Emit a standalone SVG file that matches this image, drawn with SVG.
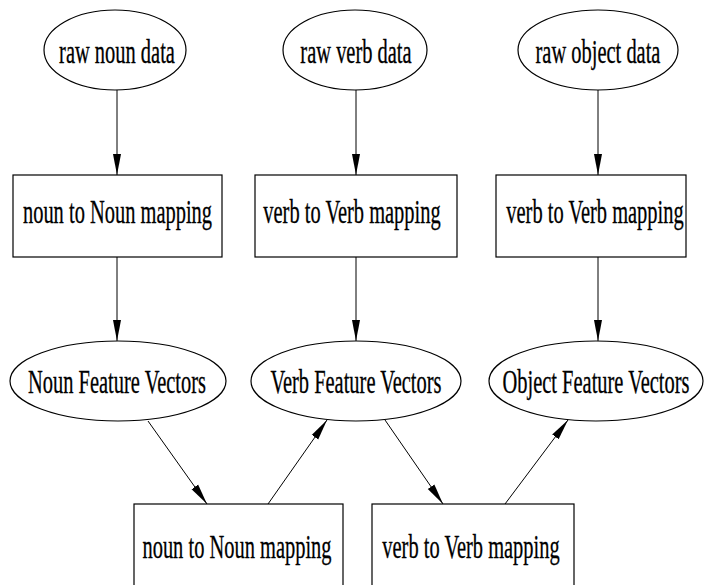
<svg xmlns="http://www.w3.org/2000/svg" width="704" height="585" viewBox="0 0 704 585">
  <style>
    .shape { fill: #ffffff; stroke: #000000; stroke-width: 1.2; }
    .lbl { font-family: "Liberation Serif", "Times New Roman", serif; font-size: 33px; fill: #000000; stroke: #000000; stroke-width: 0.3; text-anchor: middle; }
    .edge { fill: none; stroke: #000000; stroke-width: 1; marker-end: url(#arrow); }
  </style>
  <defs>
    <marker id="arrow" markerUnits="userSpaceOnUse" markerWidth="24" markerHeight="10" refX="21" refY="4.5" orient="auto">
      <path d="M0,0.5 L21,4.5 L0,8.5 Z" fill="#000000"/>
    </marker>
  </defs>
  <rect width="704" height="585" fill="#ffffff"/>

  <!-- connectors -->
  <g id="edges">
    <line class="edge" x1="117" y1="90" x2="117" y2="175"/>
    <line class="edge" x1="356" y1="90" x2="356" y2="175"/>
    <line class="edge" x1="598" y1="90" x2="598" y2="175"/>
    <line class="edge" x1="117" y1="257" x2="117" y2="341"/>
    <line class="edge" x1="356" y1="257" x2="356" y2="341"/>
    <line class="edge" x1="598" y1="257" x2="598" y2="341"/>
    <line class="edge" x1="148" y1="421" x2="207" y2="504"/>
    <line class="edge" x1="268" y1="504" x2="327" y2="420"/>
    <line class="edge" x1="385" y1="420" x2="443" y2="504"/>
    <line class="edge" x1="505" y1="504" x2="568" y2="420"/>
  </g>

  <!-- raw data sources -->
  <g id="raw_noun">
    <ellipse class="shape" cx="115" cy="50" rx="71" ry="40"/>
    <text class="lbl" transform="translate(117,63) scale(0.62,1)">raw noun data</text>
  </g>
  <g id="raw_verb">
    <ellipse class="shape" cx="355" cy="50" rx="72" ry="40"/>
    <text class="lbl" transform="translate(356,63) scale(0.62,1)">raw verb data</text>
  </g>
  <g id="raw_object">
    <ellipse class="shape" cx="598" cy="50" rx="80" ry="40"/>
    <text class="lbl" transform="translate(598,63) scale(0.62,1)">raw object data</text>
  </g>

  <!-- first mapping stage -->
  <g id="map_noun">
    <rect class="shape" x="13" y="175" width="209" height="82"/>
    <text class="lbl" transform="translate(117.5,223) scale(0.62,1)">noun to Noun mapping</text>
  </g>
  <g id="map_verb">
    <rect class="shape" x="255" y="175" width="202" height="82"/>
    <text class="lbl" transform="translate(352,223) scale(0.62,1)">verb to Verb mapping</text>
  </g>
  <g id="map_object">
    <rect class="shape" x="496" y="175" width="190" height="82"/>
    <text class="lbl" transform="translate(595,223) scale(0.62,1)">verb to Verb mapping</text>
  </g>

  <!-- feature vectors -->
  <g id="noun_vectors">
    <ellipse class="shape" cx="118" cy="381" rx="108" ry="40"/>
    <text class="lbl" transform="translate(117,393) scale(0.62,1)">Noun Feature Vectors</text>
  </g>
  <g id="verb_vectors">
    <ellipse class="shape" cx="356" cy="381" rx="105" ry="40"/>
    <text class="lbl" transform="translate(356,393) scale(0.62,1)">Verb Feature Vectors</text>
  </g>
  <g id="object_vectors">
    <ellipse class="shape" cx="596" cy="381" rx="107" ry="40"/>
    <text class="lbl" transform="translate(596,393) scale(0.62,1)">Object Feature Vectors</text>
  </g>

  <!-- second mapping stage -->
  <g id="map_noun_2">
    <rect class="shape" x="134" y="504" width="209" height="96"/>
    <text class="lbl" transform="translate(237,558) scale(0.62,1)">noun to Noun mapping</text>
  </g>
  <g id="map_verb_2">
    <rect class="shape" x="372" y="504" width="202" height="96"/>
    <text class="lbl" transform="translate(471,558) scale(0.62,1)">verb to Verb mapping</text>
  </g>
</svg>
